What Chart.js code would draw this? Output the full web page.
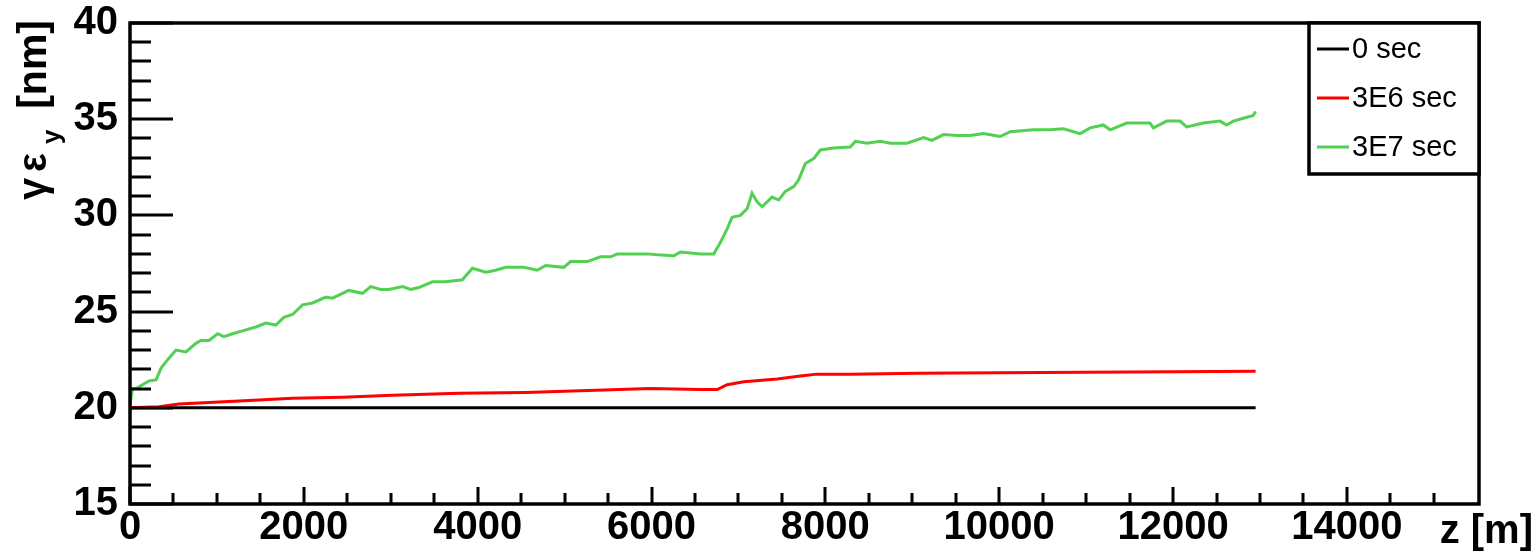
<!DOCTYPE html>
<html>
<head>
<meta charset="utf-8">
<title>Vertical emittance vs z</title>
<script src="https://cdn.jsdelivr.net/npm/chart.js@4.4.0/dist/chart.umd.min.js"></script>
<style>
  body { margin: 0; background: #fff; }
  #wrap { width: 1538px; height: 554px; }
</style>
</head>
<body>
<div id="wrap"><canvas id="emit"></canvas></div>
<script>
// axis ticks
var zTicks = [0, 2000, 4000, 6000, 8000, 10000, 12000, 14000];
var eTicks = [15, 20, 25, 30, 35, 40];

var seriesLabels = ['0 sec', '3E6 sec', '3E7 sec'];
var seriesColors = ['#000000', '#ff0000', '#52d052'];

// 0 sec
var zBlack = [0, 12950];
var eBlack = [20, 20];

// 3E6 sec
var zRed = [0, 333, 563, 1023, 1483, 1870, 2445, 3020, 3785, 4552, 5988, 6563, 6755, 6870,
  7062, 7445, 7713, 7904, 8287, 9053, 10000, 11000, 12000, 12950];
var eRed = [20.0, 20.05, 20.2, 20.3, 20.4, 20.5, 20.55, 20.65, 20.75, 20.8, 21.0, 20.95, 20.95, 21.2,
  21.35, 21.5, 21.65, 21.75, 21.75, 21.8, 21.82, 21.85, 21.88, 21.9];

// 3E7 sec
var zGreen = [0, 30, 70, 218, 300, 356, 433, 529, 644, 759, 816, 908, 1008, 1080, 1180, 1333,
  1448, 1563, 1678, 1770, 1870, 1985, 2100, 2253, 2330, 2517, 2675, 2770, 2885, 2977, 3134,
  3230, 3322, 3480, 3632, 3824, 3939, 4092, 4207, 4322, 4437, 4530, 4686, 4782, 4990, 5069,
  5260, 5414, 5529, 5606, 5798, 5951, 6066, 6257, 6333, 6563, 6716, 6793, 6870, 6927, 7023,
  7100, 7157, 7215, 7272, 7387, 7463, 7540, 7636, 7693, 7770, 7866, 7942, 8095, 8287, 8345,
  8479, 8632, 8747, 8939, 9130, 9226, 9360, 9513, 9667, 9820, 10011, 10126, 10394, 10586,
  10739, 10931, 11046, 11199, 11276, 11467, 11735, 11774, 11927, 12080, 12157, 12349, 12540,
  12617, 12693, 12808, 12923, 12950];
var eGreen = [20.2, 21.0, 21.0, 21.4, 21.45, 22.05, 22.5, 23.0, 22.9, 23.35, 23.5, 23.5, 23.85,
  23.7, 23.85, 24.05, 24.2, 24.4, 24.3, 24.7, 24.85, 25.35, 25.45, 25.75, 25.7, 26.1, 25.95,
  26.3, 26.15, 26.15, 26.3, 26.15, 26.25, 26.55, 26.55, 26.65, 27.25, 27.05, 27.15, 27.3, 27.3,
  27.3, 27.15, 27.4, 27.3, 27.6, 27.6, 27.85, 27.85, 28.0, 28.0, 28.0, 27.95, 27.9, 28.1, 28.0,
  28.0, 28.6, 29.3, 29.9, 30.0, 30.35, 31.15, 30.7, 30.45, 30.95, 30.8, 31.25, 31.5, 31.85,
  32.7, 32.95, 33.4, 33.5, 33.55, 33.85, 33.75, 33.85, 33.75, 33.75, 34.05, 33.9, 34.2, 34.15,
  34.15, 34.25, 34.1, 34.35, 34.45, 34.45, 34.5, 34.25, 34.55, 34.7, 34.45, 34.8, 34.8, 34.55,
  34.9, 34.9, 34.6, 34.8, 34.9, 34.7, 34.9, 35.05, 35.2, 35.4];

function pairs(zs, es) {
  var out = [];
  for (var i = 0; i < zs.length; i++) out.push({ x: zs[i], y: es[i] });
  return out;
}

var FONT = '"Liberation Sans", Arial, Helvetica, sans-serif';
Chart.defaults.font.family = FONT;

// ROOT-like frame: inward ticks, boxed legend, axis titles
var rootFrame = {
  id: 'rootFrame',
  afterDraw: function(chart) {
    var ctx = chart.ctx, a = chart.chartArea;
    var xs = chart.scales.x, ys = chart.scales.y;
    ctx.save();
    ctx.strokeStyle = '#000';
    ctx.lineWidth = 3;
    ctx.beginPath();
    for (var v = 15; v <= 40; v++) {
      var py = Math.round(ys.getPixelForValue(v));
      ctx.moveTo(a.left, py);
      ctx.lineTo(a.left + (v % 5 === 0 ? 43 : 21), py);
    }
    for (var z = 0; z <= 15000; z += 500) {
      var px = Math.round(xs.getPixelForValue(z));
      ctx.moveTo(px, a.bottom);
      ctx.lineTo(px, a.bottom - (z % 2000 === 0 ? 17 : 11));
    }
    ctx.stroke();

    ctx.lineWidth = 3.5;
    ctx.strokeRect(a.left, a.top, a.right - a.left, a.bottom - a.top);

    // legend box in the top right corner
    var lw = 170, lh = 151, lx = a.right - lw, ly = a.top;
    ctx.fillStyle = '#fff';
    ctx.fillRect(lx, ly, lw, lh);
    ctx.strokeRect(lx, ly, lw, lh);
    ctx.font = '29px ' + FONT;
    ctx.textBaseline = 'middle';
    ctx.textAlign = 'left';
    chart.data.datasets.forEach(function(ds, i) {
      var cy = ly + 26 + i * 49;
      ctx.strokeStyle = ds.borderColor;
      ctx.lineWidth = 3;
      ctx.beginPath();
      ctx.moveTo(lx + 8, cy);
      ctx.lineTo(lx + 40, cy);
      ctx.stroke();
      ctx.fillStyle = '#000';
      ctx.fillText(ds.label, lx + 43, cy + 1);
    });

    // x title
    ctx.fillStyle = '#000';
    ctx.font = 'bold 40px ' + FONT;
    ctx.textAlign = 'right';
    ctx.textBaseline = 'alphabetic';
    ctx.fillText('z [m]', 1533, 543);

    // y title, rotated so that local x = -screen y
    ctx.translate(46, 0);
    ctx.rotate(-Math.PI / 2);
    ctx.textAlign = 'left';
    ctx.font = 'bold 40px ' + FONT;
    ctx.fillText('γ', -200, 0);
    ctx.fillText('ε', -172, 0);
    ctx.font = 'bold 26px ' + FONT;
    ctx.fillText('y', -144, 14);
    ctx.font = 'bold 41px ' + FONT;
    ctx.textAlign = 'right';
    ctx.fillText('[nm]', -20, 0);
    ctx.restore();
  }
};

new Chart(document.getElementById('emit'), {
  type: 'line',
  data: {
    datasets: [
      { label: seriesLabels[0], data: pairs(zBlack, eBlack), borderColor: seriesColors[0], order: 3 },
      { label: seriesLabels[1], data: pairs(zRed, eRed), borderColor: seriesColors[1], order: 2 },
      { label: seriesLabels[2], data: pairs(zGreen, eGreen), borderColor: seriesColors[2], order: 1 }
    ]
  },
  options: {
    responsive: true,
    maintainAspectRatio: false,
    animation: false,
    layout: { padding: { top: 23, right: 59, left: 0, bottom: 0 } },
    plugins: { legend: { display: false }, tooltip: { enabled: false } },
    elements: {
      point: { radius: 0 },
      line: { borderWidth: 3, tension: 0, fill: false }
    },
    scales: {
      x: {
        type: 'linear', min: 0, max: 15520,
        afterFit: function(s) { s.height = 50; s.paddingLeft = 0; s.paddingRight = 0; },
        afterBuildTicks: function(s) { s.ticks = zTicks.map(function(v) { return { value: v }; }); },
        grid: { display: false, drawTicks: false },
        border: { display: false },
        ticks: { color: '#000', padding: 0, maxRotation: 0, autoSkip: false,
                 font: { size: 40, weight: 'bold' },
                 callback: function(v) { return String(v); } }
      },
      y: {
        type: 'linear', min: 15, max: 40,
        afterFit: function(s) { s.width = 130; s.paddingTop = 0; s.paddingBottom = 0; },
        afterBuildTicks: function(s) { s.ticks = eTicks.map(function(v) { return { value: v }; }); },
        grid: { display: false, drawTicks: false },
        border: { display: false },
        ticks: { color: '#000', padding: 12, autoSkip: false,
                 font: { size: 40, weight: 'bold' },
                 callback: function(v) { return String(v); } }
      }
    }
  },
  plugins: [rootFrame]
});
</script>
</body>
</html>
